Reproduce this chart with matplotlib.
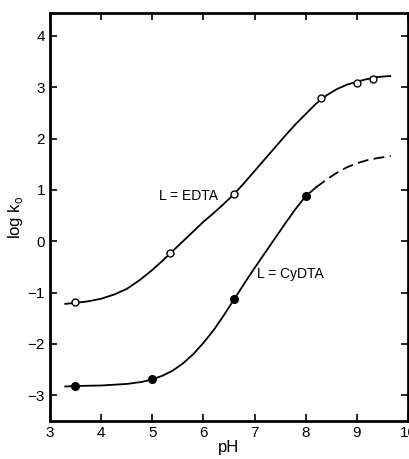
import numpy as np
import matplotlib
matplotlib.use("Agg")
import matplotlib.pyplot as plt

plt.rcParams['font.family'] = ['Liberation Sans', 'DejaVu Sans']

# measured points
edta_ph = [3.5, 5.35, 6.6, 8.3, 9.0, 9.32]
edta_logk = [-1.19, -0.22, 0.92, 2.79, 3.08, 3.16]
cydta_ph = [3.5, 5.0, 6.6, 8.0]
cydta_logk = [-2.82, -2.69, -1.13, 0.88]

# hand-drawn curves
edta_curve_ph = [3.3, 3.5, 3.75, 4.0, 4.25, 4.5, 4.75, 5.0, 5.2, 5.4, 5.6, 5.8, 6.0, 6.2,
                 6.4, 6.6, 6.8, 7.0, 7.2, 7.4, 7.6, 7.8, 8.0, 8.2, 8.4, 8.6, 8.8, 9.0,
                 9.2, 9.4, 9.65]
edta_curve_logk = [-1.22, -1.2, -1.17, -1.12, -1.04, -0.93, -0.76, -0.56, -0.38, -0.19, 0.0,
                   0.19, 0.38, 0.55, 0.73, 0.92, 1.14, 1.37, 1.6, 1.83, 2.06, 2.28, 2.48,
                   2.68, 2.84, 2.96, 3.05, 3.11, 3.16, 3.2, 3.22]
cydta_curve_ph = [3.3, 3.5, 4.0, 4.5, 4.8, 5.0, 5.2, 5.4, 5.6, 5.8, 6.0, 6.2, 6.4, 6.6,
                  6.8, 7.0, 7.2, 7.4, 7.6, 7.8, 8.0, 8.2]
cydta_curve_logk = [-2.83, -2.82, -2.81, -2.78, -2.74, -2.69, -2.62, -2.52, -2.38, -2.2,
                    -1.98, -1.73, -1.44, -1.13, -0.82, -0.52, -0.23, 0.06, 0.35, 0.63,
                    0.88, 1.05]
cydta_dash_ph = [8.2, 8.4, 8.6, 8.8, 9.0, 9.2, 9.4, 9.66]
cydta_dash_logk = [1.05, 1.2, 1.33, 1.44, 1.52, 1.58, 1.62, 1.66]

fig = plt.figure(figsize=(4.09, 4.59), dpi=100)
ax = fig.add_axes([0.122, 0.083, 0.876, 0.889])

ax.plot(edta_curve_ph, edta_curve_logk, color='black', lw=1.3)
ax.plot(cydta_curve_ph, cydta_curve_logk, color='black', lw=1.3)
ax.plot(cydta_dash_ph, cydta_dash_logk, color='black', lw=1.3, dashes=(6, 3))
ax.plot(edta_ph, edta_logk, 'o', ms=5, mfc='white', mec='black', mew=1.0)
ax.plot(cydta_ph, cydta_logk, 'o', ms=5.5, mfc='black', mec='black')

ax.text(5.14, 0.88, 'L = EDTA', fontsize=10, va='center', ha='left')
ax.text(7.05, -0.64, 'L = CyDTA', fontsize=10, va='center', ha='left')

ax.set_xlim(3, 10)
ax.set_ylim(-3.5, 4.45)
ax.set_xticks(range(3, 11))
ax.set_yticks(range(-3, 5))
ax.tick_params(direction='in', top=True, right=True, length=5, width=1.2, labelsize=11)
for s in ax.spines.values():
    s.set_linewidth(2)
ax.set_xlabel('pH', fontsize=12, labelpad=0)
ax.set_ylabel('log k$_\\mathregular{o}$', fontsize=12, labelpad=2)

fig.savefig('out.png', dpi=100)
